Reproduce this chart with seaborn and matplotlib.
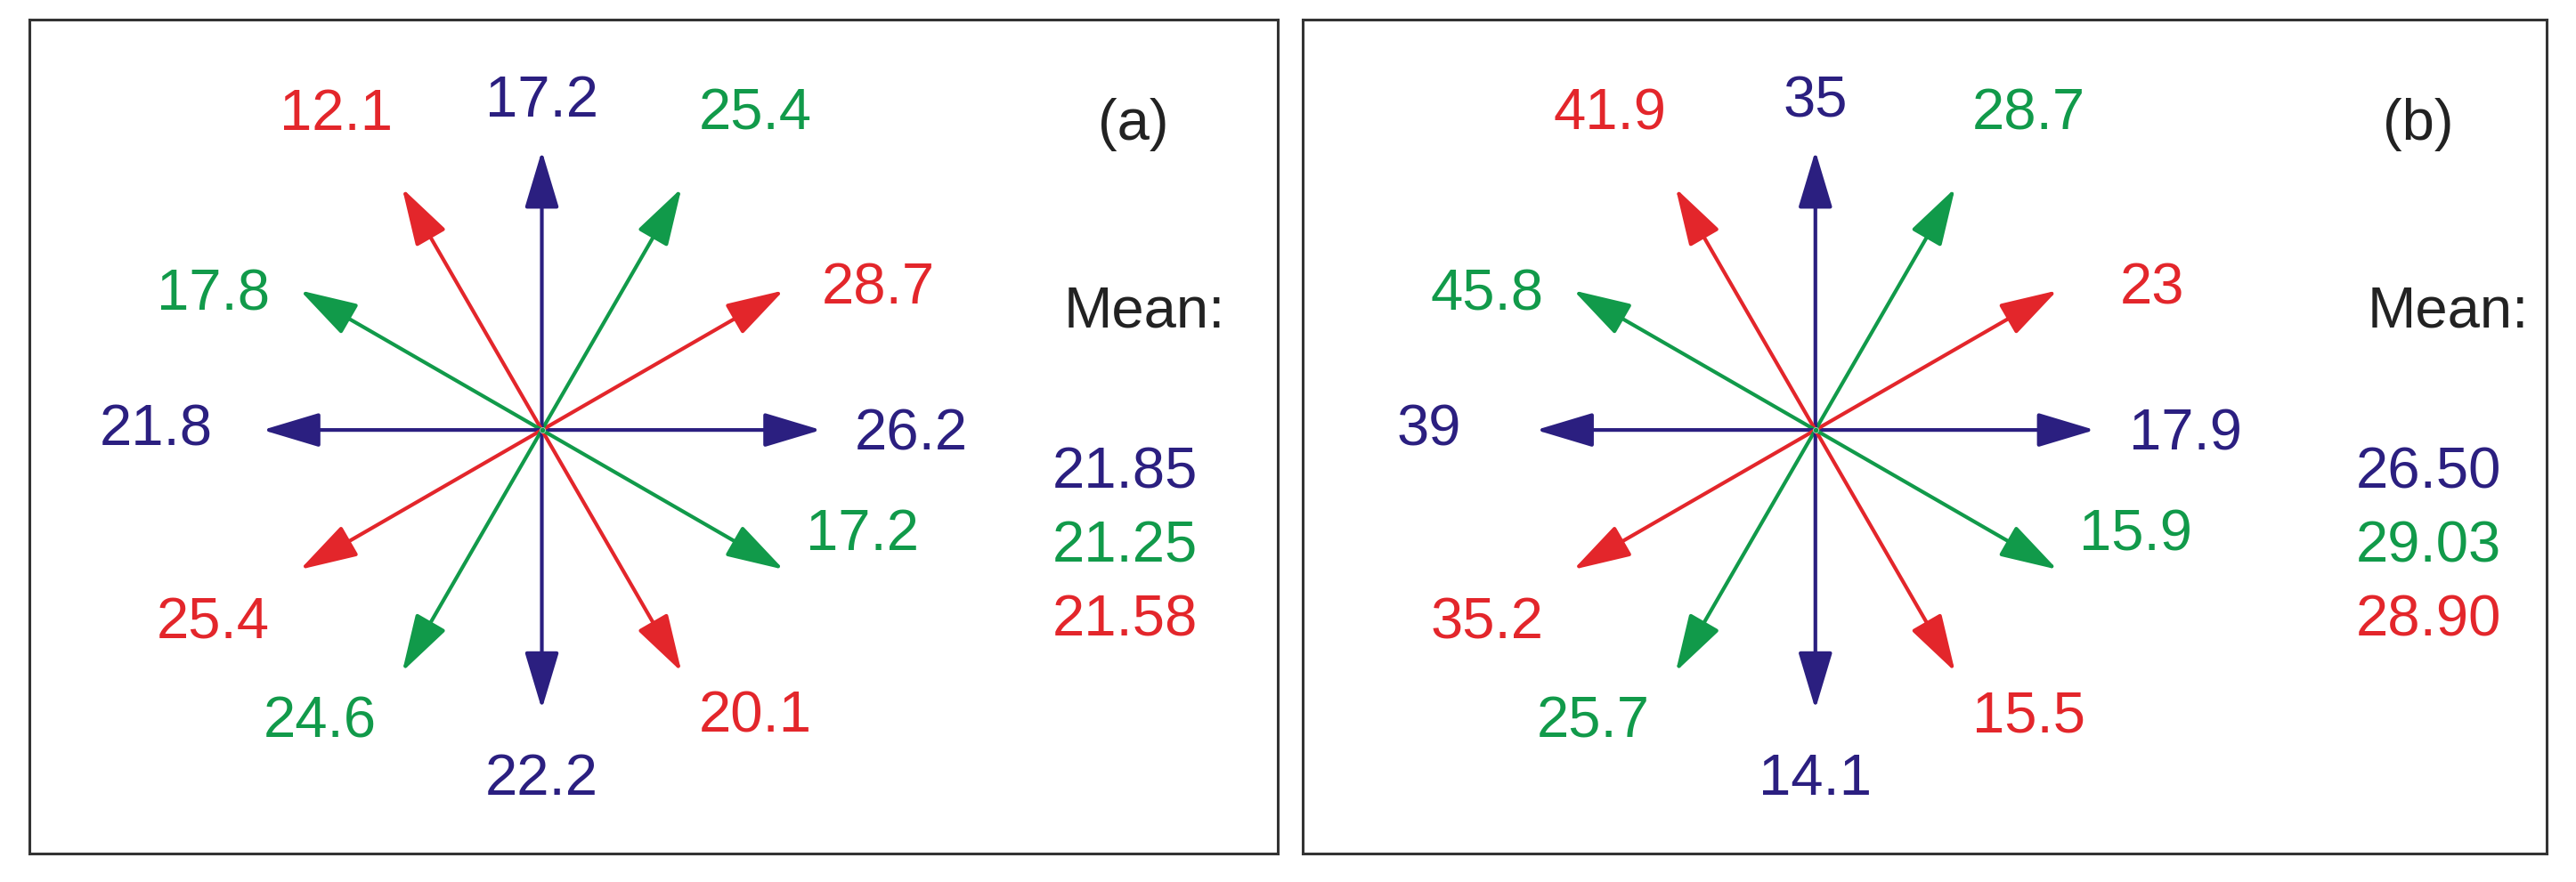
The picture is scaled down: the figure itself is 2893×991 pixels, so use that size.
import numpy as np
import matplotlib
matplotlib.use("Agg")
import matplotlib.pyplot as plt
import seaborn as sns
import pandas as pd

angles = [0, 30, 60, 90, 120, 150, 180, 210, 240, 270, 300, 330]
values_a = [26.2, 28.7, 25.4, 17.2, 12.1, 17.8, 21.8, 25.4, 24.6, 22.2, 20.1, 17.2]
values_b = [17.9, 23, 28.7, 35, 41.9, 45.8, 39, 35.2, 25.7, 14.1, 15.5, 15.9]
labels_b = ["17.9", "23", "28.7", "35", "41.9", "45.8", "39", "35.2", "25.7", "14.1", "15.5", "15.9"]
means_a = ["21.85", "21.25", "21.58"]
means_b = ["26.50", "29.03", "28.90"]
panel_tags = ["(a)", "(b)"]

NAVY, RED, GREEN = "#2b1f80", "#e3262b", "#119a4a"
group_colors = [NAVY, RED, GREEN]
mean_colors = [NAVY, GREEN, RED]

sns.set_theme(style="white")
plt.rcParams['font.family'] = ['Liberation Sans Narrow', 'Liberation Sans', 'DejaVu Sans']

fig = plt.figure(figsize=(28.93, 9.91), dpi=100)
rects = [[0.0114, 0.0323, 0.4846, 0.9455], [0.5057, 0.0323, 0.4829, 0.9455]]
offs = [(225, -3), (205, 86), (130, 192), (0, 200), (-125, 192), (-200, 82),
        (-235, 0), (-200, -118), (-135, -178), (0, -213), (130, -175), (195, -64)]
L = 170
fs = 47

panels = [(values_a, [f"{v}" for v in values_a], means_a), (values_b, labels_b, means_b)]
for k, (vals, labs, means) in enumerate(panels):
    ax = fig.add_axes(rects[k])
    x0 = 18 if k == 0 else 793
    w = 760 if k == 0 else 757
    ax.set_xlim(x0, x0 + w)
    ax.set_ylim(520, 12)
    ax.set_xticks([]); ax.set_yticks([])
    for s in ax.spines.values():
        s.set_color("#333333"); s.set_linewidth(2.2)
    cx = 330 if k == 0 else 1105
    cy = 262
    df = pd.DataFrame({"angle": angles, "value": vals, "label": labs})
    for i, row in df.iterrows():
        a = np.deg2rad(row["angle"])
        col = group_colors[i % 3]
        tx, ty = cx + L * np.cos(a), cy - L * np.sin(a)
        ax.annotate("", xy=(tx, ty), xytext=(cx, cy),
                    arrowprops=dict(arrowstyle="-|>,head_length=1.0,head_width=0.3",
                                    color=col, lw=3, mutation_scale=40,
                                    shrinkA=0, shrinkB=0))
        dx, dy = offs[i]
        ax.text(cx + dx, cy - dy, row["label"], color=col, fontsize=fs,
                ha="center", va="center")
    sns.scatterplot(x=[cx], y=[cy], ax=ax, color=GREEN, s=20, legend=False, zorder=5)
    tagx = 690 if k == 0 else 1472
    mx = 685 if k == 0 else 1478
    ax.text(tagx, 76, panel_tags[k], fontsize=fs, color="#222222", ha="center", va="center")
    ax.text(mx + 12, 190, "Mean:", fontsize=fs, color="#222222", ha="center", va="center")
    for j, m in enumerate(means):
        ax.text(mx, 288 + 45 * j, m, fontsize=fs, color=mean_colors[j], ha="center", va="center")

fig.savefig("out.png", dpi=100)
